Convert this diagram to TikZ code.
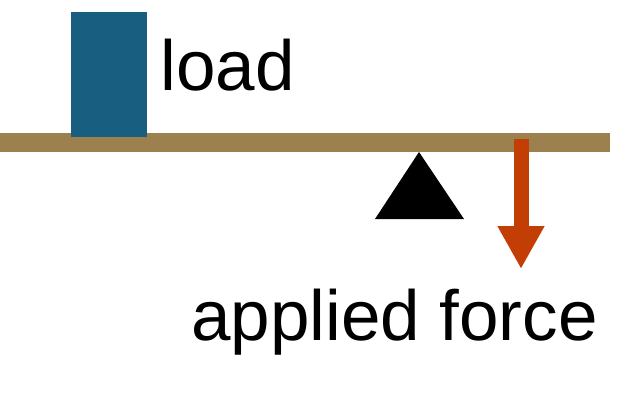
\documentclass[tikz,border=0pt]{standalone}
\usepackage{fontspec}
\setmainfont{Liberation Sans}
\usepackage{tikz}
\usetikzlibrary{arrows.meta,positioning}
\definecolor{boxblue}{HTML}{175E80}
\definecolor{plank}{HTML}{9C804E}
\definecolor{push}{HTML}{C33E05}

\begin{document}
\begin{tikzpicture}[x=1pt,y=1pt,
  word/.style={inner sep=0pt,anchor=base west,font=\fontsize{71}{85}\selectfont},
  block/.style={draw=none,inner sep=0pt,outer sep=0pt}]
\useasboundingbox (0,0) rectangle (640,400);
% lever and the load on it
\node[block,fill=plank,minimum width=610pt,minimum height=19pt,anchor=south west] (beam) at (0,248) {};
\node[block,fill=boxblue,minimum width=76pt,minimum height=125pt,anchor=south west] (load) at (71,263) {};
\node[word] (loadtxt) at (160.5,310) {load};
% fulcrum
\fill (419,248) coordinate (pivot) -- (375,181) -- (464,181) -- cycle;
% force
\coordinate (push top) at (521,261);
\coordinate (push tip) at (521,131);
\draw[push,line width=15pt,-{Triangle[width=44pt,length=43pt]}] (push top) -- (push tip);
\node[word] (forcetxt) at (191,60) {applied force};
\end{tikzpicture}
\end{document}
